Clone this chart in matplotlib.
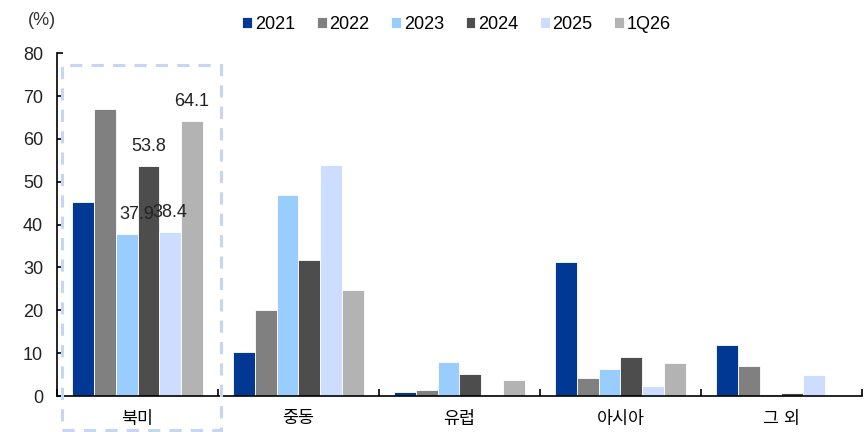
import numpy as np
import matplotlib
matplotlib.use("Agg")
import matplotlib.pyplot as plt
from matplotlib.patches import Rectangle

plt.rcParams['font.family'] = ['Liberation Sans', 'Noto Sans CJK KR', 'DejaVu Sans']

# 데이터
regions = ['북미', '중동', '유럽', '아시아', '그 외']
series_names = ['2021', '2022', '2023', '2024', '2025', '1Q26']
v2021 = [45.2, 10.3, 0.9, 31.2, 11.8]
v2022 = [67.1, 20.1, 1.5, 4.3, 7.1]
v2023 = [37.9, 47.0, 8.0, 6.2, 0.5]
v2024 = [53.8, 31.7, 5.2, 9.0, 0.6]
v2025 = [38.4, 53.9, 0.5, 2.4, 4.8]
v1q26 = [64.1, 24.7, 3.8, 7.6, 0.0]
colors = ['#003893', '#808080', '#99CCFF', '#4D4D4D', '#CCDDFF', '#B3B3B3']

all_values = [v2021, v2022, v2023, v2024, v2025, v1q26]

fig = plt.figure(figsize=(8.65, 4.32), dpi=100)
ax = fig.add_axes([0.0659, 0.0833, 0.9306, 0.7933])

x = np.arange(len(regions))
n = len(series_names)
bw = 0.135
for i, (name, vals, c) in enumerate(zip(series_names, all_values, colors)):
    pos = x + (i - (n - 1) / 2) * bw
    ax.bar(pos, vals, bw, color=c, edgecolor='white', linewidth=0.6, label=name)
    # 북미 라벨 (2023 이후)
    if i >= 2:
        dx = 7 if i == 2 else 0
        ax.annotate(f'{vals[0]:.1f}', (pos[0], vals[0]), xytext=(dx, 14),
                    textcoords='offset points', ha='center', va='center',
                    fontsize=13, color='#222222')

ax.set_xlim(-0.5, len(regions) - 0.5)
ax.set_ylim(0, 80)
ax.set_yticks(np.arange(0, 81, 10))
ax.set_xticks(x)
ax.set_xticklabels(regions, fontsize=12.5)
ax.set_xticks(np.arange(-0.5, len(regions) + 0.5, 1), minor=True)
ax.tick_params(axis='x', which='major', length=0, pad=11)
ax.tick_params(axis='x', which='minor', direction='in', length=5, width=1.2)
ax.tick_params(axis='y', direction='in', length=4, width=1.2, labelsize=13, pad=10,
               labelcolor='#222222')
for side in ['top', 'right']:
    ax.spines[side].set_visible(False)
ax.spines['left'].set_linewidth(1.2)
ax.spines['bottom'].set_linewidth(1.2)

# 북미 강조 점선 박스
rect = Rectangle((-0.469, -7.9), 0.988, 85.2, fill=False, edgecolor='#C5D6F5',
                 linestyle=(0, (4, 3)), linewidth=2.2, clip_on=False, zorder=5)
ax.add_patch(rect)

fig.text(0.032, 0.953, '(%)', fontsize=13, color='#333333', va='center')

fig.legend(loc='center', bbox_to_anchor=(0.528, 0.943), ncol=6, frameon=False,
           fontsize=13, handlelength=0.55, handleheight=0.55, handletextpad=0.15,
           columnspacing=1.2)

fig.savefig('out.png', dpi=100)
